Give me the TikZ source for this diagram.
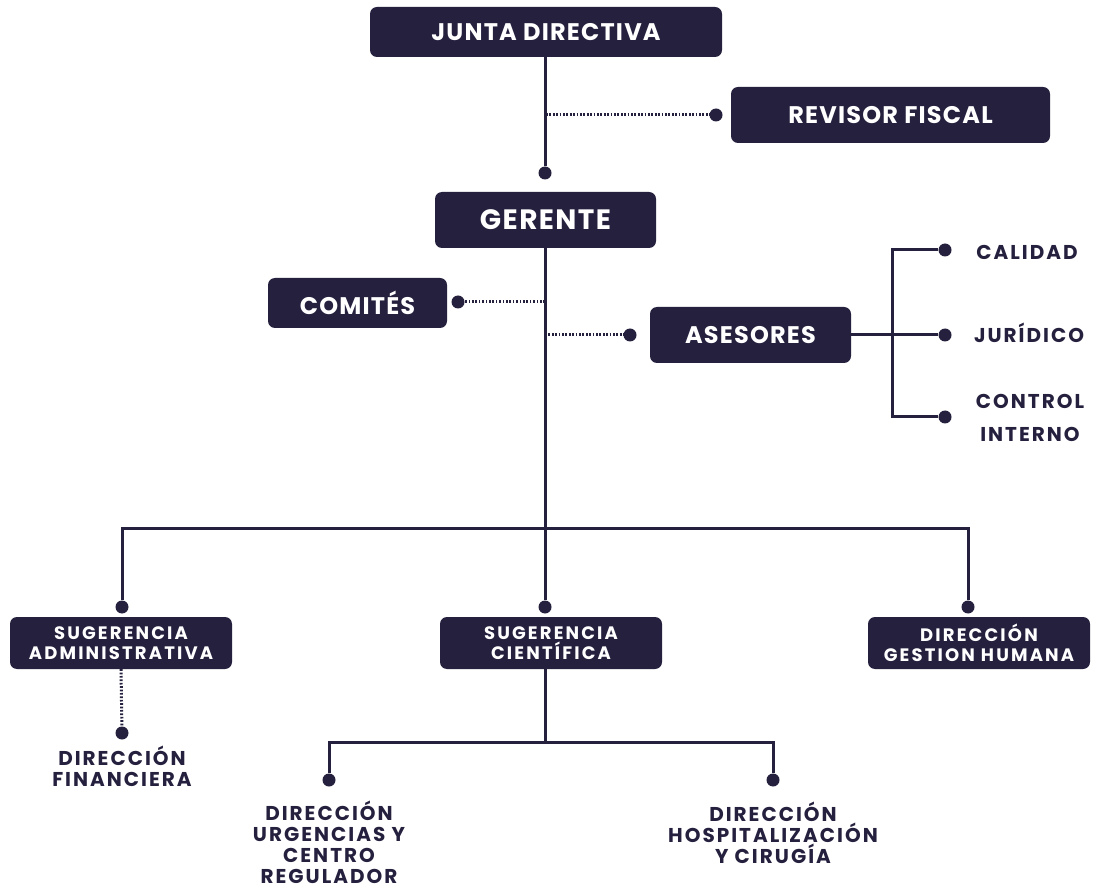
\documentclass[tikz,border=0pt]{standalone}
\usepackage{fontspec}
\setmainfont{Poppins}
\definecolor{navy}{RGB}{36,32,62}
\tikzset{
  unit/.style={fill=navy, text=white, rounded corners=7pt, inner sep=0pt, align=center},
  bigunit/.style={unit, font=\fontsize{24}{28}\selectfont\bfseries\addfontfeatures{LetterSpace=5}},
  smallunit/.style={unit, minimum width=222pt, minimum height=52pt,
    font=\fontsize{18}{20}\selectfont\bfseries\addfontfeatures{LetterSpace=12}},
  leaf/.style={text=navy, inner sep=0pt, align=center,
    font=\fontsize{20}{21}\selectfont\bfseries\addfontfeatures{LetterSpace=10}},
  link/.style={draw=navy, line width=3pt},
  dotlink/.style={draw=navy, line width=3pt, dash pattern=on 1.7pt off 1.7pt},
  knob/.style={circle, fill=navy, inner sep=0pt, minimum size=13pt}
}
\begin{document}
\begin{tikzpicture}[x=1pt,y=-1pt]
\useasboundingbox[fill=white] (0,0) rectangle (1098,890);
% Boxes
\node[bigunit, minimum width=352pt, minimum height=50pt] (jd) at (546,32) {JUNTA DIRECTIVA};
\node[bigunit, minimum width=319pt, minimum height=56pt] (rf) at (890.5,115) {REVISOR FISCAL};
\node[bigunit, minimum width=221pt, minimum height=56pt, font=\fontsize{28}{30}\selectfont\bfseries\addfontfeatures{LetterSpace=5}] (ger) at (545.5,220) {GERENTE};
\node[bigunit, minimum width=179pt, minimum height=50pt] (com) at (357.5,303) {COMITÉS};
\node[bigunit, minimum width=201pt, minimum height=56pt] (ase) at (750.5,335) {ASESORES};
\node[smallunit] (sa) at (121,643) {SUGERENCIA\\ADMINISTRATIVA};
\node[smallunit] (sc) at (551,643) {SUGERENCIA\\CIENTÍFICA};
\node[smallunit] (gh) at (979,643) {DIRECCIÓN\\GESTION HUMANA};
% Knobs
\node[knob] (gtop) at (545,173) {};
\node[knob] (rfdot) at (716,115) {};
\node[knob] (comdot) at (458,302) {};
\node[knob] (asedot) at (630,335) {};
\node[knob] (caldot) at (945,250) {};
\node[knob] (jurdot) at (945,335) {};
\node[knob] (ctldot) at (945,417) {};
\node[knob] (satop) at (122,607) {};
\node[knob] (sctop) at (545,607) {};
\node[knob] (ghtop) at (968,607) {};
\node[knob] (findot) at (122,733) {};
\node[knob] (urgdot) at (329,780) {};
\node[knob] (hosdot) at (773,780) {};
% Leaf texts
\node[leaf] (cal) at (1027,252) {CALIDAD};
\node[leaf] (jur) at (1029,333) {JURÍDICO};
\node[leaf, font=\fontsize{20}{33}\selectfont\bfseries\addfontfeatures{LetterSpace=10}] (ctl) at (1030,418) {CONTROL\\INTERNO};
\node[leaf] (fin) at (122,766) {DIRECCIÓN\\FINANCIERA};
\node[leaf] (urg) at (329,842) {DIRECCIÓN\\URGENCIAS Y\\CENTRO\\REGULADOR};
\node[leaf] (hos) at (773,833) {DIRECCIÓN\\HOSPITALIZACIÓN\\Y CIRUGÍA};
% Junctions
\coordinate (rfj) at (546,115);
\coordinate (comj) at (545,302);
\coordinate (asej) at (545,335);
\coordinate (bus) at (545,528);
\coordinate (brk) at (892,335);
\coordinate (scj) at (545,742);
% Solid links
\draw[link] (jd.south -| gtop) -- (gtop);
\draw[link] (ger.south -| sctop) -- (sctop);
\draw[link] (satop) |- (bus) -| (ghtop);
\draw[link] (ase.east) -- (jurdot);
\draw[link] (caldot) -| (brk) |- (ctldot);
\draw[link] (sc.south -| scj) -- (scj);
\draw[link] (urgdot) |- (scj) -| (hosdot);
% Dotted links
\draw[dotlink] (rfj) -- (rfdot);
\draw[dotlink] (comj) -- (comdot);
\draw[dotlink] (asej) -- (asedot);
\draw[dotlink] (sa.south) -- (findot);
\end{tikzpicture}
\end{document}
